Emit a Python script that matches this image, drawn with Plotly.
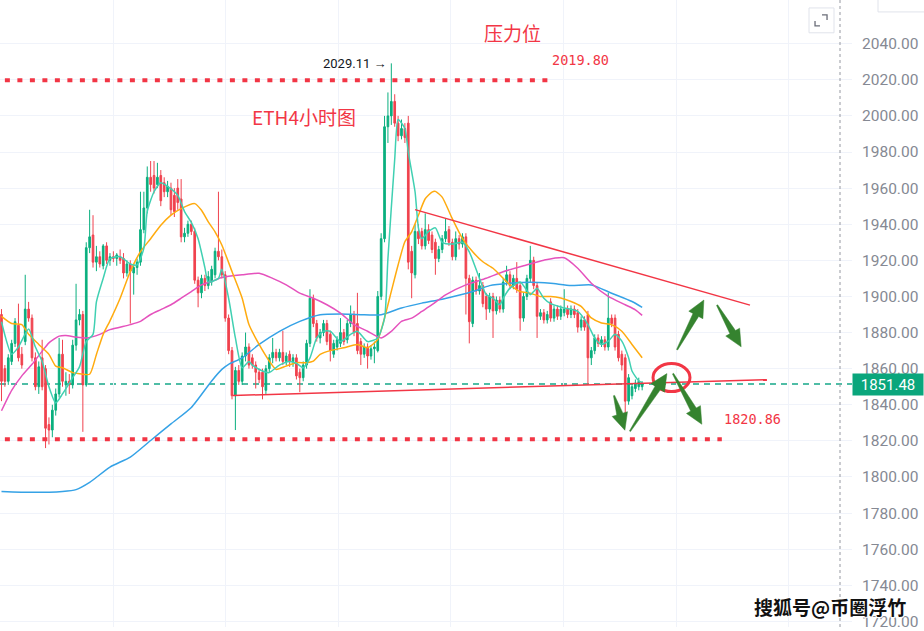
import math
import plotly.graph_objects as go

# ---------------- ETH/USDT 4H candles ----------------
opens = [1890, 1860, 1853, 1864, 1874, 1884, 1868, 1875, 1893, 1888,
         1866, 1850, 1866, 1860, 1829, 1826, 1837, 1846, 1868, 1851,
         1853, 1851, 1873, 1887, 1890, 1851, 1927, 1934, 1919, 1922,
         1917, 1928, 1920, 1922, 1921, 1922, 1921, 1913, 1918, 1913,
         1916, 1919, 1937, 1949, 1966, 1967, 1962, 1967, 1963, 1958,
         1960, 1956, 1960, 1954, 1933, 1935, 1940, 1936, 1909, 1902,
         1910, 1906, 1908, 1912, 1925, 1922, 1912, 1888, 1870, 1845,
         1859, 1853, 1867, 1872, 1866, 1862, 1858, 1858, 1848, 1860,
         1866, 1869, 1866, 1869, 1864, 1868, 1864, 1866, 1858, 1855,
         1862, 1874, 1899, 1885, 1877, 1880, 1885, 1879, 1868, 1872,
         1874, 1880, 1876, 1885, 1890, 1885, 1875, 1868, 1872, 1867,
         1871, 1870, 1900, 1932, 1994, 2000, 2008, 1996, 1989, 1993,
         1996, 1925, 1912, 1936, 1936, 1928, 1937, 1934, 1930, 1921,
         1926, 1932, 1937, 1930, 1922, 1932, 1929, 1933, 1910, 1885,
         1909, 1903, 1906, 1900, 1893, 1900, 1892, 1898, 1893, 1908,
         1912, 1906, 1910, 1906, 1888, 1900, 1910, 1920, 1906, 1889,
         1891, 1887, 1897, 1888, 1893, 1889, 1891, 1893, 1890, 1893,
         1891, 1883, 1887, 1890, 1866, 1870, 1877, 1874, 1876, 1872,
         1888, 1888, 1879, 1868, 1866, 1842, 1845, 1849, 1850, 1850]
highs = [1893, 1862, 1868, 1876, 1888, 1896, 1872, 1912, 1897, 1890,
         1869, 1864, 1876, 1862, 1833, 1840, 1849, 1877, 1876, 1858,
         1857, 1876, 1907, 1893, 1892, 1930, 1948, 1945, 1928, 1925,
         1929, 1930, 1924, 1925, 1924, 1926, 1924, 1920, 1920, 1918,
         1921, 1958, 1958, 1972, 1975, 1975, 1974, 1970, 1966, 1964,
         1963, 1960, 1965, 1965, 1938, 1942, 1942, 1938, 1911, 1912,
         1912, 1914, 1917, 1927, 1958, 1926, 1914, 1890, 1872, 1861,
         1862, 1869, 1880, 1874, 1868, 1864, 1860, 1860, 1862, 1868,
         1877, 1871, 1871, 1881, 1869, 1870, 1868, 1868, 1860, 1864,
         1876, 1904, 1901, 1887, 1882, 1887, 1887, 1881, 1876, 1878,
         1888, 1882, 1887, 1895, 1892, 1902, 1877, 1874, 1874, 1873,
         1875, 1903, 1935, 2000, 2013, 2029.11, 2012, 2000, 1998, 1996,
         2000, 1928, 1940, 1940, 1938, 1946, 1940, 1936, 1932, 1928,
         1934, 1943, 1939, 1932, 1936, 1934, 1935, 1935, 1912, 1911,
         1911, 1913, 1908, 1902, 1902, 1902, 1900, 1900, 1910, 1917,
         1914, 1912, 1919, 1908, 1902, 1912, 1928, 1922, 1908, 1893,
         1893, 1892, 1899, 1895, 1895, 1895, 1904, 1895, 1895, 1895,
         1893, 1889, 1889, 1892, 1872, 1879, 1879, 1878, 1878, 1902,
         1890, 1890, 1881, 1870, 1868, 1857, 1852, 1854, 1855, 1853]
lows = [1842, 1850, 1851, 1862, 1872, 1864, 1860, 1873, 1886, 1864,
        1848, 1846, 1848, 1816, 1818, 1822, 1834, 1844, 1850, 1845,
        1846, 1849, 1870, 1884, 1825, 1850, 1924, 1916, 1914, 1916,
        1915, 1918, 1917, 1919, 1917, 1918, 1910, 1911, 1885, 1901,
        1912, 1917, 1935, 1946, 1958, 1957, 1960, 1950, 1955, 1955,
        1945, 1944, 1948, 1930, 1930, 1933, 1934, 1907, 1894, 1899,
        1903, 1904, 1906, 1910, 1920, 1910, 1886, 1868, 1843, 1826,
        1851, 1851, 1864, 1860, 1860, 1849, 1852, 1843, 1846, 1858,
        1863, 1864, 1864, 1862, 1862, 1861, 1861, 1854, 1847, 1853,
        1860, 1872, 1883, 1875, 1874, 1878, 1873, 1864, 1866, 1870,
        1872, 1873, 1874, 1883, 1878, 1868, 1862, 1866, 1860, 1865,
        1863, 1869, 1898, 1930, 1985, 1995, 1994, 1986, 1987, 1985,
        1915, 1899, 1910, 1929, 1926, 1926, 1929, 1924, 1912, 1919,
        1924, 1930, 1928, 1920, 1920, 1926, 1927, 1890, 1874, 1883,
        1901, 1901, 1894, 1887, 1891, 1877, 1890, 1891, 1891, 1906,
        1904, 1904, 1902, 1881, 1886, 1898, 1908, 1904, 1877, 1887,
        1885, 1885, 1886, 1886, 1887, 1887, 1889, 1888, 1888, 1888,
        1880, 1881, 1881, 1851, 1862, 1868, 1872, 1872, 1870, 1870,
        1883, 1870, 1864, 1859, 1835, 1840, 1843, 1847, 1848, 1848]
closes = [1853, 1853, 1866, 1874, 1886, 1866, 1862, 1893, 1888, 1866,
          1850, 1861, 1850, 1827, 1826, 1837, 1846, 1868, 1853, 1853,
          1851, 1873, 1887, 1890, 1851, 1927, 1933, 1919, 1922, 1918,
          1928, 1920, 1922, 1921, 1923, 1920, 1913, 1918, 1914, 1916,
          1919, 1937, 1949, 1966, 1962, 1960, 1966, 1953, 1958, 1961,
          1948, 1947, 1952, 1933, 1935, 1940, 1936, 1909, 1902, 1910,
          1906, 1911, 1915, 1925, 1922, 1912, 1888, 1870, 1845, 1859,
          1853, 1867, 1872, 1862, 1862, 1858, 1854, 1850, 1860, 1866,
          1869, 1866, 1869, 1864, 1867, 1864, 1866, 1856, 1855, 1862,
          1874, 1899, 1885, 1877, 1880, 1885, 1875, 1870, 1874, 1876,
          1880, 1875, 1885, 1890, 1880, 1870, 1868, 1872, 1867, 1871,
          1872, 1900, 1932, 1994, 2000, 2008, 1996, 1989, 1993, 1988,
          1919, 1913, 1936, 1932, 1928, 1937, 1931, 1926, 1921, 1926,
          1932, 1936, 1930, 1922, 1932, 1929, 1933, 1910, 1886, 1909,
          1903, 1906, 1896, 1893, 1900, 1892, 1898, 1893, 1908, 1912,
          1906, 1910, 1904, 1888, 1900, 1910, 1920, 1906, 1889, 1891,
          1887, 1890, 1888, 1893, 1889, 1893, 1893, 1890, 1893, 1890,
          1883, 1887, 1883, 1866, 1870, 1877, 1874, 1876, 1872, 1888,
          1885, 1872, 1866, 1862, 1842, 1855, 1850, 1852, 1853, 1851.48]

# ---------------- moving averages (candle index, value) ----------------
ma_fast_x = [0, 3, 5, 8, 10, 12, 14, 16, 18, 21, 23, 25, 27, 28, 30, 32, 35, 38, 40, 42,
             43, 45, 47, 49, 52, 54, 56, 58, 60, 61, 64, 65, 67, 69, 71, 73, 74, 77, 79, 82,
             85, 87, 89, 91, 93, 95, 97, 100, 103, 105, 108, 111, 113, 114, 116, 117, 119, 120, 122, 123,
             124, 126, 128, 130, 133, 136, 138, 141, 143, 145, 147, 148, 150, 153, 156, 157, 158, 160, 162, 166,
             170, 173, 175, 177, 179, 181, 183, 185, 186, 188, 189]
ma_fast_y = [1886, 1868, 1872, 1882, 1872, 1864, 1850, 1841, 1846, 1855, 1861, 1875, 1879, 1897, 1910, 1921, 1922, 1918, 1917.5, 1926.6,
             1947, 1958, 1963, 1961, 1956, 1947, 1941, 1932, 1916, 1908, 1910, 1915, 1899, 1877, 1860.5, 1864, 1862, 1858.7, 1857.8, 1862,
             1864, 1863, 1860.5, 1866, 1877, 1880.7, 1880.7, 1875, 1879, 1880.7, 1875, 1877, 1888, 1921, 1976, 1998, 1993, 1980, 1958, 1938,
             1932, 1936, 1938, 1930, 1929, 1930, 1924.7, 1910, 1901, 1899, 1895.4, 1899, 1904.6, 1908, 1901, 1902.7, 1904.6, 1899, 1896, 1893.6,
             1891.7, 1884.4, 1877, 1873.4, 1875.2, 1879, 1875.2, 1866, 1858.7, 1853.2, 1852.3]

ma_mid_x = [0, 3, 6, 8, 11, 14, 16, 18, 21, 23, 26, 28, 30, 32, 35, 38, 41, 44, 47, 50,
            53, 57, 59, 61, 63, 65, 68, 71, 73, 76, 79, 81, 84, 87, 90, 92, 94, 97, 101, 105,
            108, 111, 113, 115, 117, 119, 121, 123, 125, 127, 128, 130, 133, 136, 139, 142, 145, 148, 150, 153,
            156, 159, 162, 165, 168, 171, 174, 177, 180, 183, 186, 189]
ma_mid_y = [1889, 1885, 1884.4, 1879, 1873.4, 1867.9, 1861.4, 1860.5, 1857.8, 1857.2, 1856.9, 1867.9, 1879, 1886.5, 1899, 1913.8, 1924.8, 1932, 1939.4, 1945,
            1948.6, 1951.4, 1947.7, 1941.3, 1935.8, 1928.5, 1913.8, 1899, 1884.4, 1873.4, 1864.2, 1859.6, 1861.5, 1863.3, 1863.3, 1864.2, 1867.9, 1870, 1871.6, 1873.4,
            1871.6, 1876.2, 1888.1, 1902.8, 1917.4, 1930.3, 1935.8, 1945, 1954.1, 1957.8, 1958.2, 1955, 1943, 1932, 1924.7, 1919.2, 1915.6, 1910.1, 1906.4, 1902.7,
            1901.8, 1900, 1900, 1899.1, 1897.2, 1894.5, 1888.1, 1885.3, 1884.4, 1880.7, 1873.4, 1866]

ma_slow_x = [0, 3, 6, 9, 12, 14, 17, 19, 22, 25, 29, 32, 38, 41, 44, 47, 50, 53, 56, 59,
             62, 65, 71, 76, 80, 84, 88, 92, 96, 100, 104, 108, 112, 115, 118, 121, 124, 127, 131, 137,
             143, 148, 154, 160, 166, 170, 174, 179, 184, 187, 189]
ma_slow_y = [1836.7, 1848, 1856, 1862.4, 1869.7, 1874.3, 1878, 1878.4, 1877.5, 1877, 1879, 1881.6, 1884.4, 1886.2, 1890, 1892.7, 1895.4, 1899, 1902.7, 1906.4,
             1908.3, 1910.5, 1912, 1912.8, 1910, 1906.4, 1901.8, 1899, 1895.4, 1890.8, 1884.4, 1880.7, 1877, 1880.7, 1886.2, 1888, 1891.7, 1895.4, 1900.9, 1906.4,
             1910.1, 1913.7, 1917, 1920.1, 1921.4, 1915.6, 1907.3, 1900, 1895.4, 1892.6, 1889.5]

ma_long_x = [0, 9, 18, 22, 26, 32, 38, 44, 50, 56, 62, 65, 67, 71, 76, 82, 88, 94, 100, 106,
             112, 118, 124, 130, 139, 144, 150, 156, 162, 168, 174, 180, 186, 189]
ma_long_y = [1792, 1791.5, 1792, 1793, 1797, 1805.5, 1811, 1820.2, 1829.4, 1838.5, 1853.2, 1859.6, 1862.4, 1866, 1873.4, 1880.7, 1886.2, 1889.9, 1890.3, 1889.9,
             1889.9, 1893.6, 1896.3, 1898.5, 1902.7, 1906, 1907.3, 1907.9, 1907.3, 1906, 1906.4, 1901.8, 1897.2, 1893.9]

# ---------------- price levels and drawings ----------------
price_ticks = [1720, 1740, 1760, 1780, 1800, 1820, 1840, 1860, 1880, 1900,
               1920, 1940, 1960, 1980, 2000, 2020, 2040]
last_price = 1851.48
resistance = 2019.80
support = 1820.86
swing_high = 2029.11

UP = "#0aaf7f"
DOWN = "#f0424e"
RED = "#f23645"
ARROW_GREEN = "#35832f"

W, H = 924, 631
PW = 852            # plot width in px (price scale sits to the right)
X0, X1 = -0.44, 250.9
Y0, Y1 = 1716.9, 2064.2

idx = list(range(len(closes)))

fig = go.Figure()

fig.add_trace(go.Candlestick(
    x=idx, open=opens, high=highs, low=lows, close=closes,
    increasing=dict(line=dict(color=UP, width=1), fillcolor=UP),
    decreasing=dict(line=dict(color=DOWN, width=1), fillcolor=DOWN),
    whiskerwidth=0, showlegend=False, hoverinfo="skip"))

for xs, ys, col in [(ma_long_x, ma_long_y, "#35a2e6"),
                    (ma_slow_x, ma_slow_y, "#e552bd"),
                    (ma_mid_x, ma_mid_y, "#ffab0f"),
                    (ma_fast_x, ma_fast_y, "#40d0b2")]:
    fig.add_trace(go.Scatter(x=xs, y=ys, mode="lines",
                             line=dict(color=col, width=1.5, shape="spline", smoothing=0.6),
                             showlegend=False, hoverinfo="skip"))


def to_px(xd, yd):
    return ((xd - X0) / (X1 - X0) * PW, (Y1 - yd) / (Y1 - Y0) * H)


def to_data(px, py):
    return (X0 + px / PW * (X1 - X0), Y1 - py / H * (Y1 - Y0))


def arrow_path(tail, tip, head_len=17, head_half=8, shaft_half=3.2, tail_half=0.6):
    tx, ty = to_px(*tail)
    px, py = to_px(*tip)
    dx, dy = px - tx, py - ty
    L = math.hypot(dx, dy)
    ux, uy = dx / L, dy / L
    nx, ny = -uy, ux
    bx, by = px - ux * head_len, py - uy * head_len
    pts = [(tx + nx * tail_half, ty + ny * tail_half),
           (bx + nx * shaft_half, by + ny * shaft_half),
           (bx + nx * head_half, by + ny * head_half),
           (px, py),
           (bx - nx * head_half, by - ny * head_half),
           (bx - nx * shaft_half, by - ny * shaft_half),
           (tx - nx * tail_half, ty - ny * tail_half)]
    dpts = [to_data(a, b) for a, b in pts]
    return "M " + " L ".join(f"{a:.3f},{b:.3f}" for a, b in dpts) + " Z"


def paper_path(points):
    return "M " + " L ".join(f"{a / PW:.4f},{1 - b / H:.4f}" for a, b in points)


shapes = []
# last-price dashed line
shapes.append(dict(type="line", xref="paper", yref="y", x0=0, x1=1, y0=last_price, y1=last_price,
                   line=dict(color="#16a889", width=1.4, dash="6px,5px"), layer="below"))
# resistance / support dotted levels
shapes.append(dict(type="line", xref="x", yref="y", x0=1.0, x1=161.5, y0=resistance, y1=resistance,
                   line=dict(color=RED, width=4, dash="5px,7.5px")))
shapes.append(dict(type="line", xref="x", yref="y", x0=1.0, x1=212.5, y0=support, y1=support,
                   line=dict(color=RED, width=4, dash="5px,7.5px")))
# triangle trend lines
shapes.append(dict(type="line", xref="x", yref="y", x0=122.0, y0=1948.1, x1=220.8, y1=1895.2,
                   line=dict(color=RED, width=1.5)))
shapes.append(dict(type="line", xref="x", yref="y", x0=68.3, y0=1845.1, x1=225.8, y1=1853.9,
                   line=dict(color=RED, width=1.5)))
# circle around the break point
shapes.append(dict(type="circle", xref="x", yref="y", x0=192.2, x1=203.1, y0=1847.3, y1=1862.8,
                   line=dict(color=RED, width=3)))
# scenario arrows
arrows = [((185.4, 1825.3), (196.3, 1857.25)),
          ((198.1, 1857.25), (206.6, 1829.2)),
          ((180.7, 1845.1), (183.9, 1825.9)),
          ((199.3, 1870.5), (207.2, 1898.0)),
          ((211.1, 1895.2), (218.2, 1872.1))]
for tail, tip in arrows:
    shapes.append(dict(type="path", xref="x", yref="y", path=arrow_path(tail, tip),
                       fillcolor=ARROW_GREEN, line=dict(color=ARROW_GREEN, width=0.5)))
# price-scale divider
shapes.append(dict(type="line", xref="paper", yref="paper", x0=840 / PW, x1=840 / PW, y0=0, y1=1,
                   line=dict(color="#9598a1", width=1, dash="3px,3px")))
# top-right buttons
shapes.append(dict(type="rect", xref="paper", yref="paper", x0=809 / PW, x1=834 / PW,
                   y0=1 - 33 / H, y1=1 - 8 / H, line=dict(color="#e0e3eb", width=1), fillcolor="white"))
shapes.append(dict(type="path", xref="paper", yref="paper",
                   path=paper_path([(822, 15), (827, 15), (827, 20)]),
                   line=dict(color="#6a6d78", width=1.3)))
shapes.append(dict(type="path", xref="paper", yref="paper",
                   path=paper_path([(815, 21), (815, 26), (820, 26)]),
                   line=dict(color="#6a6d78", width=1.3)))
shapes.append(dict(type="rect", xref="paper", yref="paper", x0=878 / PW, x1=930 / PW,
                   y0=1 - 12 / H, y1=1.01, line=dict(color="#e0e3eb", width=1), fillcolor="white"))

annotations = [
    dict(text="压力位", x=150.6, y=2046.0, xref="x", yref="y", showarrow=False,
         font=dict(family="Noto Sans CJK SC", size=19, color=RED)),
    dict(text="ETH4小时图", x=89.2, y=1999.8, xref="x", yref="y", showarrow=False,
         font=dict(family="Noto Sans CJK SC", size=19, color=RED)),
    dict(text=f"{swing_high:.2f} →", x=115, y=swing_high, xref="x", yref="y", showarrow=False,
         xanchor="right", xshift=-2, font=dict(family="Roboto", size=13, color="#131722")),
    dict(text=f"{resistance:.2f}", x=170.9, y=resistance, xref="x", yref="y", showarrow=False,
         yshift=20, font=dict(family="DejaVu Sans Mono", size=13.5, color=RED)),
    dict(text=f"{support:.2f}", x=221.4, y=support, xref="x", yref="y", showarrow=False,
         yshift=20, font=dict(family="DejaVu Sans Mono", size=13.5, color=RED)),
    dict(text=f"{last_price:.2f}", x=1, y=last_price, xref="paper", yref="y", showarrow=False,
         xanchor="left", yanchor="middle", width=68, height=19, bgcolor="#0aa67c", borderpad=1,
         font=dict(family="Roboto", size=15, color="white")),
    dict(text="<b>搜狐号@币圈浮竹</b>", x=830 / PW, y=1 - 610 / H, xref="paper", yref="paper",
         xanchor="center", yanchor="middle", showarrow=False,
         font=dict(family="Noto Sans CJK SC", size=19, color="#111111",
                   shadow="1px 1px 0 #fff, -1px -1px 0 #fff, 1px -1px 0 #fff, -1px 1px 0 #fff")),
]

fig.update_layout(
    width=W, height=H,
    margin=dict(l=0, r=W - PW, t=0, b=0),
    paper_bgcolor="white", plot_bgcolor="white",
    shapes=shapes, annotations=annotations,
    showlegend=False,
    xaxis=dict(range=[X0, X1], rangeslider=dict(visible=False), showticklabels=False,
               showgrid=True, gridcolor="#f0f3fa", gridwidth=1, tick0=33.0, dtick=33.2,
               zeroline=False, showline=False, ticks=""),
    yaxis=dict(range=[Y0, Y1], side="right", tickvals=price_ticks,
               ticktext=[f"{v:.2f}" for v in price_ticks],
               tickfont=dict(family="Roboto", size=15.5, color="#858993"),
               showgrid=True, gridcolor="#f0f3fa", gridwidth=1, ticklabeloverflow="allow",
               zeroline=False, showline=False, ticks="", ticklabelstandoff=9),
)

fig.write_html("out.html", config={"displayModeBar": False})
